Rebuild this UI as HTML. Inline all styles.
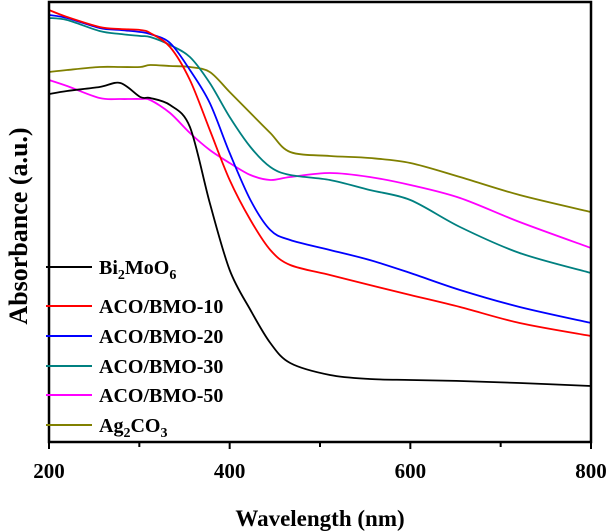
<!DOCTYPE html>
<html><head><meta charset="utf-8"><style>
html,body{margin:0;padding:0;background:#fff;}
svg{display:block;font-family:"Liberation Serif",serif;font-weight:bold;}
</style></head><body>
<svg id="chart" width="610" height="532" viewBox="0 0 610 532">
<g id="plot"></g>
<rect x="49" y="2" width="542" height="440" fill="none" stroke="#000" stroke-width="2.5"/>
<g id="xticks"></g>
<text x="320" y="526" font-size="23" text-anchor="middle">Wavelength (nm)</text>
<text transform="translate(27,226) rotate(-90)" font-size="26" text-anchor="middle">Absorbance (a.u.)</text>
<g id="legend"></g>
</svg>
<script>
const wavelengths=[200,220,256,279,301,312,334,356,378,400,423,445,467,511,555,600,655,721,800];
const bmo=[348,351,355,359,345,344,337,315,239,172,132,99,79,67,63,62,61,59,56];
const aco10=[432,425,415,413,412,409,395,362,312,262,222,192,177,167,157,147,135,119,106];
const aco20=[427,424,414,412,410,408,399,372,339,289,242,212,202,192,182,169,152,135,119];
const aco30=[424,422,411,408,406,405,397,385,359,325,295,275,267,262,252,242,215,189,169];
const aco50=[362,356,344,343,343,342,329,309,292,279,267,262,265,269,265,257,244,220,194];
const ag2co3=[370,372,375,375,375,377,376,375,370,350,329,309,290,286,284,279,265,247,230];
const xTicks=[200,400,600,800];
const xMinor=[300,500,700];
const seriesNames=["bi2moo6","aco-bmo-10","aco-bmo-20","aco-bmo-30","aco-bmo-50","ag2co3"];
const seriesColors=["#000000","#ff0000","#0000ff","#008080","#ff00ff","#808000"];
const seriesData=[bmo,aco10,aco20,aco30,aco50,ag2co3];
const NS="http://www.w3.org/2000/svg";
function xs(w){return 49+(w-200)/600*542;}
function ys(v){return 442-v/440*440;}
function pathFor(vals){
  const p=wavelengths.map((w,i)=>[xs(w),ys(vals[i])]);
  let d="M"+p[0][0]+","+p[0][1];
  for(let i=0;i<p.length-1;i++){
    const p0=p[Math.max(0,i-1)],p1=p[i],p2=p[i+1],p3=p[Math.min(p.length-1,i+2)];
    const t=0.16;
    d+=" C"+(p1[0]+(p2[0]-p0[0])*t)+","+(p1[1]+(p2[1]-p0[1])*t)+" "+(p2[0]-(p3[0]-p1[0])*t)+","+(p2[1]-(p3[1]-p1[1])*t)+" "+p2[0]+","+p2[1];
  }
  return d;
}
const plot=document.getElementById("plot");
const draw=[5,4,3,2,1,0];
draw.forEach(k=>{
  const el=document.createElementNS(NS,"path");
  el.setAttribute("d",pathFor(seriesData[k]));
  el.setAttribute("fill","none");
  el.setAttribute("stroke",seriesColors[k]);
  el.setAttribute("stroke-width","1.8");
  
  
  plot.appendChild(el);
});
const xt=document.getElementById("xticks");
xTicks.forEach(t=>{
  const l=document.createElementNS(NS,"line");
  l.setAttribute("x1",xs(t));l.setAttribute("x2",xs(t));l.setAttribute("y1",442);l.setAttribute("y2",449);
  l.setAttribute("stroke","#000");l.setAttribute("stroke-width","2");
  
  
  xt.appendChild(l);
  const tx=document.createElementNS(NS,"text");
  tx.setAttribute("x",xs(t));tx.setAttribute("y",478);tx.setAttribute("font-size","21");tx.setAttribute("text-anchor","middle");
  tx.textContent=t;
  
  
  xt.appendChild(tx);
});
xMinor.forEach(t=>{
  const l=document.createElementNS(NS,"line");
  l.setAttribute("x1",xs(t));l.setAttribute("x2",xs(t));l.setAttribute("y1",442);l.setAttribute("y2",447);
  l.setAttribute("stroke","#000");l.setAttribute("stroke-width","2");
  
  
  xt.appendChild(l);
});
const legendY=[267,306,336,366,395,425];
const legendLabels=['Bi<tspan font-size="14" dy="5">2</tspan><tspan dy="-5">MoO</tspan><tspan font-size="14" dy="5">6</tspan>','ACO/BMO-10','ACO/BMO-20','ACO/BMO-30','ACO/BMO-50','Ag<tspan font-size="14" dy="5">2</tspan><tspan dy="-5">CO</tspan><tspan font-size="14" dy="5">3</tspan>'];
const lg=document.getElementById("legend");
legendY.forEach((y,k)=>{
  const g=document.createElementNS(NS,"g");
  
  
  const l=document.createElementNS(NS,"line");
  l.setAttribute("x1",46);l.setAttribute("x2",92);l.setAttribute("y1",y);l.setAttribute("y2",y);
  l.setAttribute("stroke",seriesColors[k]);l.setAttribute("stroke-width","2");
  g.appendChild(l);
  const tx=document.createElementNS(NS,"text");
  tx.setAttribute("x",99);tx.setAttribute("y",y+7);tx.setAttribute("font-size","20");
  tx.innerHTML=legendLabels[k];
  g.appendChild(tx);
  lg.appendChild(g);
});
</script>
</body></html>
